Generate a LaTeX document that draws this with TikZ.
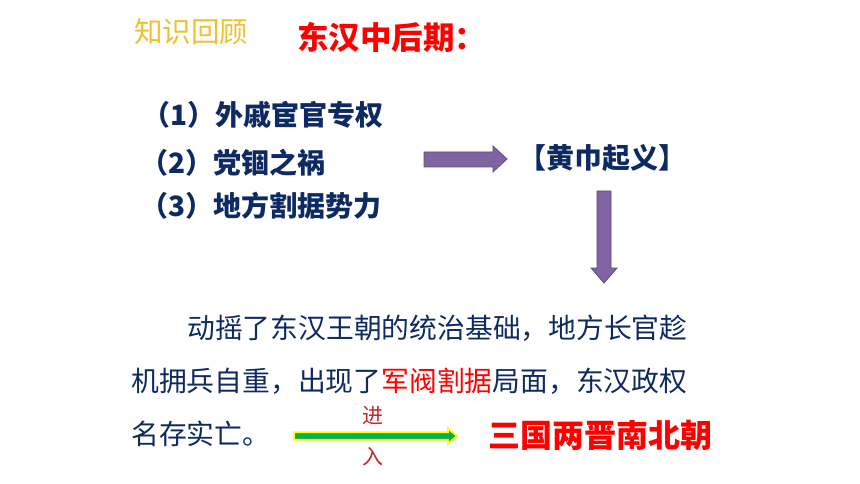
\documentclass[tikz,border=0pt]{standalone}
\usepackage{fontspec}
\newfontfamily\cjk{Noto Sans CJK SC}
\definecolor{navy}{HTML}{0E2A62}
\definecolor{gold}{HTML}{F0C030}
\definecolor{redtxt}{HTML}{FF0000}
\definecolor{darkred}{HTML}{C0282B}
\definecolor{purplefill}{HTML}{8064A2}
\definecolor{purpleline}{HTML}{5E4A80}
\definecolor{greenfill}{HTML}{00B050}
\definecolor{yellowline}{HTML}{FFFF00}
\begin{document}
\begin{tikzpicture}[x=1pt,y=-1pt]
\tikzset{
  txt/.style={inner sep=0pt, anchor=base west, text=navy},
  listtxt/.style={txt, font=\cjk\bfseries\fontsize{28}{28}\selectfont},
  paratxt/.style={txt, font=\cjk\fontsize{27.8}{28}\selectfont},
  smalltxt/.style={inner sep=0pt, anchor=center, text=darkred, font=\cjk\fontsize{21}{21}\selectfont},
  blockarrow/.style={fill=purplefill, draw=purpleline, line width=0.8pt, line join=miter},
  greenarrow/.style={fill=greenfill, draw=yellowline, line width=1.8pt, line join=miter}
}
\fill[white] (0,0) rectangle (860,484);
\useasboundingbox (0,0) rectangle (860,484);

% titles
\node[txt, text=gold, font=\cjk\fontsize{28.5}{28}\selectfont] (review) at (134,43) {知识回顾};
\node[txt, text=redtxt, font=\cjk\bfseries\fontsize{31.5}{31}\selectfont] (title) at (297,50) {东汉中后期：};

% list
\node[listtxt] (l1) at (142,126) {（1）外戚宦官专权};
\node[listtxt] (l2) at (140,174) {（2）党锢之祸};
\node[listtxt] (l3) at (140,216) {（3）地方割据势力};

\node[listtxt] (huangjin) at (518,169) {【黄巾起义】};

% purple arrows
\coordinate (ha) at (424,159);
\coordinate (hb) at (507,159);
\draw[blockarrow] (424,152) -- (493,152) -- (493,146) -- (hb) -- (493,172) -- (493,167) -- (424,167) -- cycle;
\coordinate (va) at (604,191);
\coordinate (vb) at (604,283);
\draw[blockarrow] (597,191) -- (611,191) -- (611,268) -- (617,268) -- (vb) -- (591,268) -- (597,268) -- cycle;

% paragraph
\node[paratxt] (p1) at (187,338) {动摇了东汉王朝的统治基础，地方长官趁};
\node[paratxt] (p2) at (131,391) {机拥兵自重，出现了\textcolor{redtxt}{军阀割据}局面，东汉政权};
\node[paratxt] (p3) at (131,444) {名存实亡。};

% green arrow
\coordinate (ga) at (294,436);
\coordinate (gb) at (457,436);
\draw[greenarrow] (294,432.2) -- (448,432.2) -- (448,428.5) -- (gb) -- (448,443.5) -- (448,439.8) -- (294,439.8) -- cycle;
\node[smalltxt] (jin) at (373,416) {进};
\node[smalltxt] (ru) at (373,457) {入};

\node[txt, text=redtxt, font=\cjk\bfseries\fontsize{32}{32}\selectfont] (sanguo) at (488,447) {三国两晋南北朝};
\end{tikzpicture}
\end{document}
